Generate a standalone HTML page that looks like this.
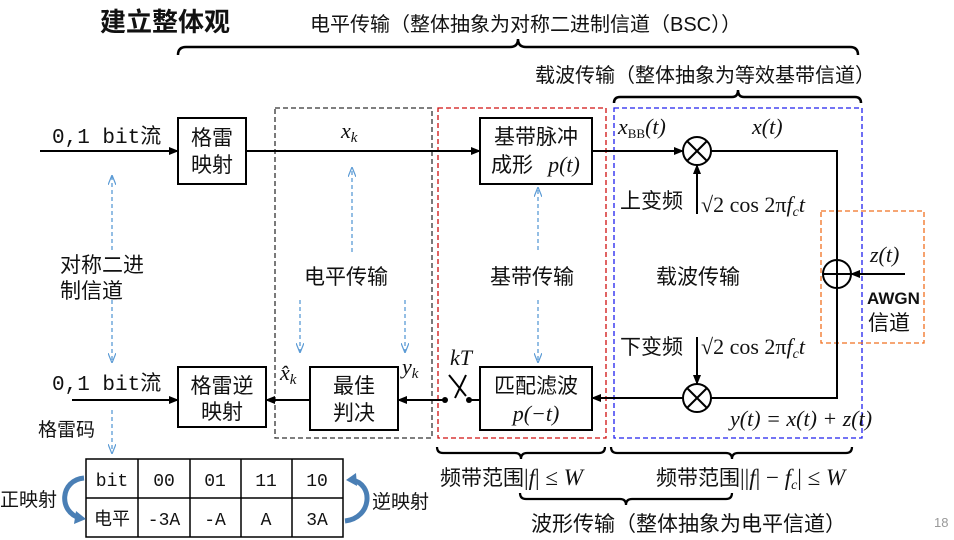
<!DOCTYPE html><html><head><meta charset="utf-8"><style>
body{margin:0;background:#fff}
svg{display:block}
text{font-family:"Liberation Sans","Noto Sans CJK SC",sans-serif;fill:#111}
.m,.m text,.m tspan{font-family:"Liberation Serif","DejaVu Serif",serif}
.m text{font-style:italic}
.m .n,.m text.n{font-style:normal}
.m .i{font-style:italic}
.mono text,text.mono{font-family:"Liberation Mono","Noto Sans CJK SC",monospace}
</style></head><body>
<svg width="954" height="540" viewBox="0 0 954 540" xmlns="http://www.w3.org/2000/svg">
<defs>
<marker id="a" markerWidth="10" markerHeight="8" refX="9" refY="4" orient="auto" markerUnits="userSpaceOnUse"><path d="M0,0 L10,4 L0,8 Z" fill="#000"/></marker>
<marker id="b" markerWidth="10" markerHeight="8" refX="9" refY="4" orient="auto" markerUnits="userSpaceOnUse"><path d="M0,0 L10,4 L0,8" fill="none" stroke="#5b9bd5" stroke-width="1.2"/></marker>
</defs>
<text x="100" y="31" font-size="26" font-weight="bold">建立整体观</text>
<text x="310" y="31" font-size="20">电平传输（整体抽象为对称二进制信道（BSC））</text>
<path d="M178,55 q0,-8 8,-8 H510 q8,0 8,-8 q0,8 8,8 H850 q8,0 8,8" fill="none" stroke="#000" stroke-width="2.5"/>
<text x="535" y="82" font-size="20">载波传输（整体抽象为等效基带信道）</text>
<path d="M614,103 q0,-6 6,-6 H732 q6,0 6,-7 q0,7 6,7 H855 q6,0 6,6" fill="none" stroke="#000" stroke-width="2.5"/>
<rect x="275" y="108" width="157" height="330" fill="none" stroke="#333" stroke-width="1.3" stroke-dasharray="5,3"/>
<rect x="438" y="108" width="168" height="330" fill="none" stroke="#d01010" stroke-width="1.3" stroke-dasharray="5,3"/>
<rect x="614" y="108" width="248" height="330" fill="none" stroke="#2020ee" stroke-width="1.3" stroke-dasharray="5,3"/>
<rect x="821" y="211" width="103" height="132" fill="none" stroke="#f07020" stroke-width="1.3" stroke-dasharray="5,3"/>
<g fill="#fff" stroke="#000" stroke-width="2">
<rect x="178" y="118" width="68" height="66"/>
<rect x="480" y="118" width="112" height="66"/>
<rect x="178" y="367" width="88" height="60"/>
<rect x="310" y="367" width="88" height="63"/>
<rect x="480" y="367" width="112" height="63"/>
</g>
<g font-size="21" text-anchor="middle">
<text x="212" y="145">格雷</text><text x="212" y="172">映射</text>
<text x="536" y="144">基带脉冲</text><text x="512" y="172">成形</text>
<text x="222" y="393">格雷逆</text><text x="222" y="419">映射</text>
<text x="354" y="393">最佳</text><text x="354" y="420">判决</text>
<text x="536" y="393">匹配滤波</text>
</g>
<g class="m" font-size="22" text-anchor="middle">
<text x="564" y="172">p(t)</text>
<text x="536" y="421">p(−t)</text>
</g>
<g stroke="#000" stroke-width="2" fill="none">
<line x1="40" y1="151" x2="178" y2="151" marker-end="url(#a)"/>
<line x1="246" y1="151" x2="480" y2="151" marker-end="url(#a)"/>
<line x1="592" y1="151" x2="683" y2="151" marker-end="url(#a)"/>
<circle cx="697" cy="151" r="14"/>
<line x1="687" y1="141" x2="707" y2="161"/><line x1="707" y1="141" x2="687" y2="161"/>
<polyline points="711,151 837,151 837,398 711,398"/>
<circle cx="837" cy="274" r="14"/>
<line x1="823" y1="274" x2="851" y2="274"/>
<line x1="905" y1="274" x2="851" y2="274" marker-end="url(#a)"/>
<line x1="697" y1="214" x2="697" y2="165" marker-end="url(#a)"/>
<line x1="697" y1="337" x2="697" y2="384" marker-end="url(#a)"/>
<circle cx="697" cy="398" r="14"/>
<line x1="687" y1="388" x2="707" y2="408"/><line x1="707" y1="388" x2="687" y2="408"/>
<line x1="683" y1="398" x2="592" y2="398" marker-end="url(#a)"/>
<line x1="480" y1="400" x2="469" y2="400"/>
<line x1="445" y1="400" x2="398" y2="400" marker-end="url(#a)"/>
<line x1="449" y1="375" x2="466" y2="396"/><line x1="466" y1="375" x2="455" y2="398"/>
<line x1="310" y1="400" x2="266" y2="400" marker-end="url(#a)"/>
<line x1="72" y1="400" x2="178" y2="400" marker-end="url(#a)"/>
</g>
<circle cx="445" cy="400" r="3" fill="#000"/><circle cx="469" cy="400" r="3" fill="#000"/>
<g stroke="#5b9bd5" stroke-width="1.3" stroke-dasharray="4,3" fill="none">
<line x1="112" y1="250" x2="112" y2="176" marker-end="url(#b)"/>
<line x1="112" y1="300" x2="112" y2="362" marker-end="url(#b)"/>
<line x1="112" y1="410" x2="112" y2="453" marker-end="url(#b)"/>
<line x1="352" y1="252" x2="352" y2="168" marker-end="url(#b)"/>
<line x1="300" y1="300" x2="300" y2="352" marker-end="url(#b)"/>
<line x1="405" y1="300" x2="405" y2="352" marker-end="url(#b)"/>
<line x1="538" y1="250" x2="538" y2="188" marker-end="url(#b)"/>
<line x1="538" y1="300" x2="538" y2="362" marker-end="url(#b)"/>
</g>
<g font-size="21">
<text x="52" y="143" class="mono">0,1 bit流</text>
<text x="52" y="390" class="mono">0,1 bit流</text>
<text x="60" y="272">对称二进</text><text x="60" y="298">制信道</text>
<text x="304" y="284">电平传输</text>
<text x="490" y="284">基带传输</text>
<text x="656" y="284">载波传输</text>
<text x="620" y="208">上变频</text>
<text x="620" y="354">下变频</text>
<text x="867" y="304" font-size="17" font-weight="bold">AWGN</text>
<text x="868" y="330">信道</text>
<text x="38" y="436" font-size="19">格雷码</text>
<text x="0" y="506" font-size="19">正映射</text>
<text x="372" y="508" font-size="19">逆映射</text>
</g>
<g class="m" font-size="22">
<text x="341" y="138">x<tspan font-size="15" dy="4">k</tspan></text>
<text x="618" y="134">x<tspan class="n" font-size="13" dy="4">BB</tspan><tspan dy="-4">(t)</tspan></text>
<text x="752" y="134">x(t)</text>
<text class="n" x="701" y="212">√2 cos 2π<tspan class="i">f</tspan><tspan class="i" font-size="14" dy="4">c</tspan><tspan class="i" dy="-4">t</tspan></text>
<text class="n" x="701" y="354">√2 cos 2π<tspan class="i">f</tspan><tspan class="i" font-size="14" dy="4">c</tspan><tspan class="i" dy="-4">t</tspan></text>
<text x="870" y="262">z(t)</text>
<text x="730" y="426">y(t) = x(t) + z(t)</text>
<text x="450" y="365">kT</text>
<text x="280" y="380">x̂<tspan font-size="15" dy="4">k</tspan></text>
<text x="402" y="374">y<tspan font-size="15" dy="4">k</tspan></text>
</g>
<g stroke="#000" stroke-width="1.5" fill="none">
<rect x="86" y="459" width="257" height="78"/>
<line x1="86" y1="498" x2="343" y2="498"/>
<line x1="138" y1="459" x2="138" y2="537"/><line x1="190" y1="459" x2="190" y2="537"/>
<line x1="241" y1="459" x2="241" y2="537"/><line x1="292" y1="459" x2="292" y2="537"/>
</g>
<g font-size="18" text-anchor="middle" class="mono">
<text x="112" y="486">bit</text><text x="164" y="486">00</text><text x="215" y="486">01</text><text x="266" y="486">11</text><text x="317" y="486">10</text>
<text x="112" y="525">电平</text><text x="164" y="525">-3A</text><text x="215" y="525">-A</text><text x="266" y="525">A</text><text x="317" y="525">3A</text>
</g>
<path d="M84,478 C60,480 58,512 80,518" fill="none" stroke="#4a7fb5" stroke-width="5"/>
<path d="M76,511 L86,519 L74,524 Z" fill="#4a7fb5"/>
<path d="M345,521 C372,518 374,484 352,480" fill="none" stroke="#4a7fb5" stroke-width="5"/>
<path d="M356,473 L346,480 L357,486 Z" fill="#4a7fb5"/>
<g fill="none" stroke="#000" stroke-width="2.2">
<path d="M437,447 q0,6 6,6 H515 q6,0 6,6 q0,-6 6,-6 H599 q6,0 6,-6"/>
<path d="M611,447 q0,6 6,6 H726 q6,0 6,6 q0,-6 6,-6 H846 q6,0 6,-6"/>
<path d="M520,493 q0,6 6,6 H620 q6,0 6,6 q0,-6 6,-6 H726 q6,0 6,-6"/>
</g>
<g font-size="21">
<text x="440" y="485">频带范围</text>
<text x="656" y="485">频带范围</text>
<text x="531" y="531">波形传输（整体抽象为电平信道）</text>
</g>
<g class="m" font-size="23">
<text class="n" x="524" y="485">|<tspan class="i">f</tspan>| ≤ <tspan class="i">W</tspan></text>
<text class="n" x="740" y="485">||<tspan class="i">f</tspan>| − <tspan class="i">f</tspan><tspan class="i" font-size="14" dy="4">c</tspan><tspan dy="-4">| ≤ </tspan><tspan class="i">W</tspan></text>
</g>
<text x="934" y="527" font-size="13" style="fill:#999">18</text>
</svg>
</body></html>
